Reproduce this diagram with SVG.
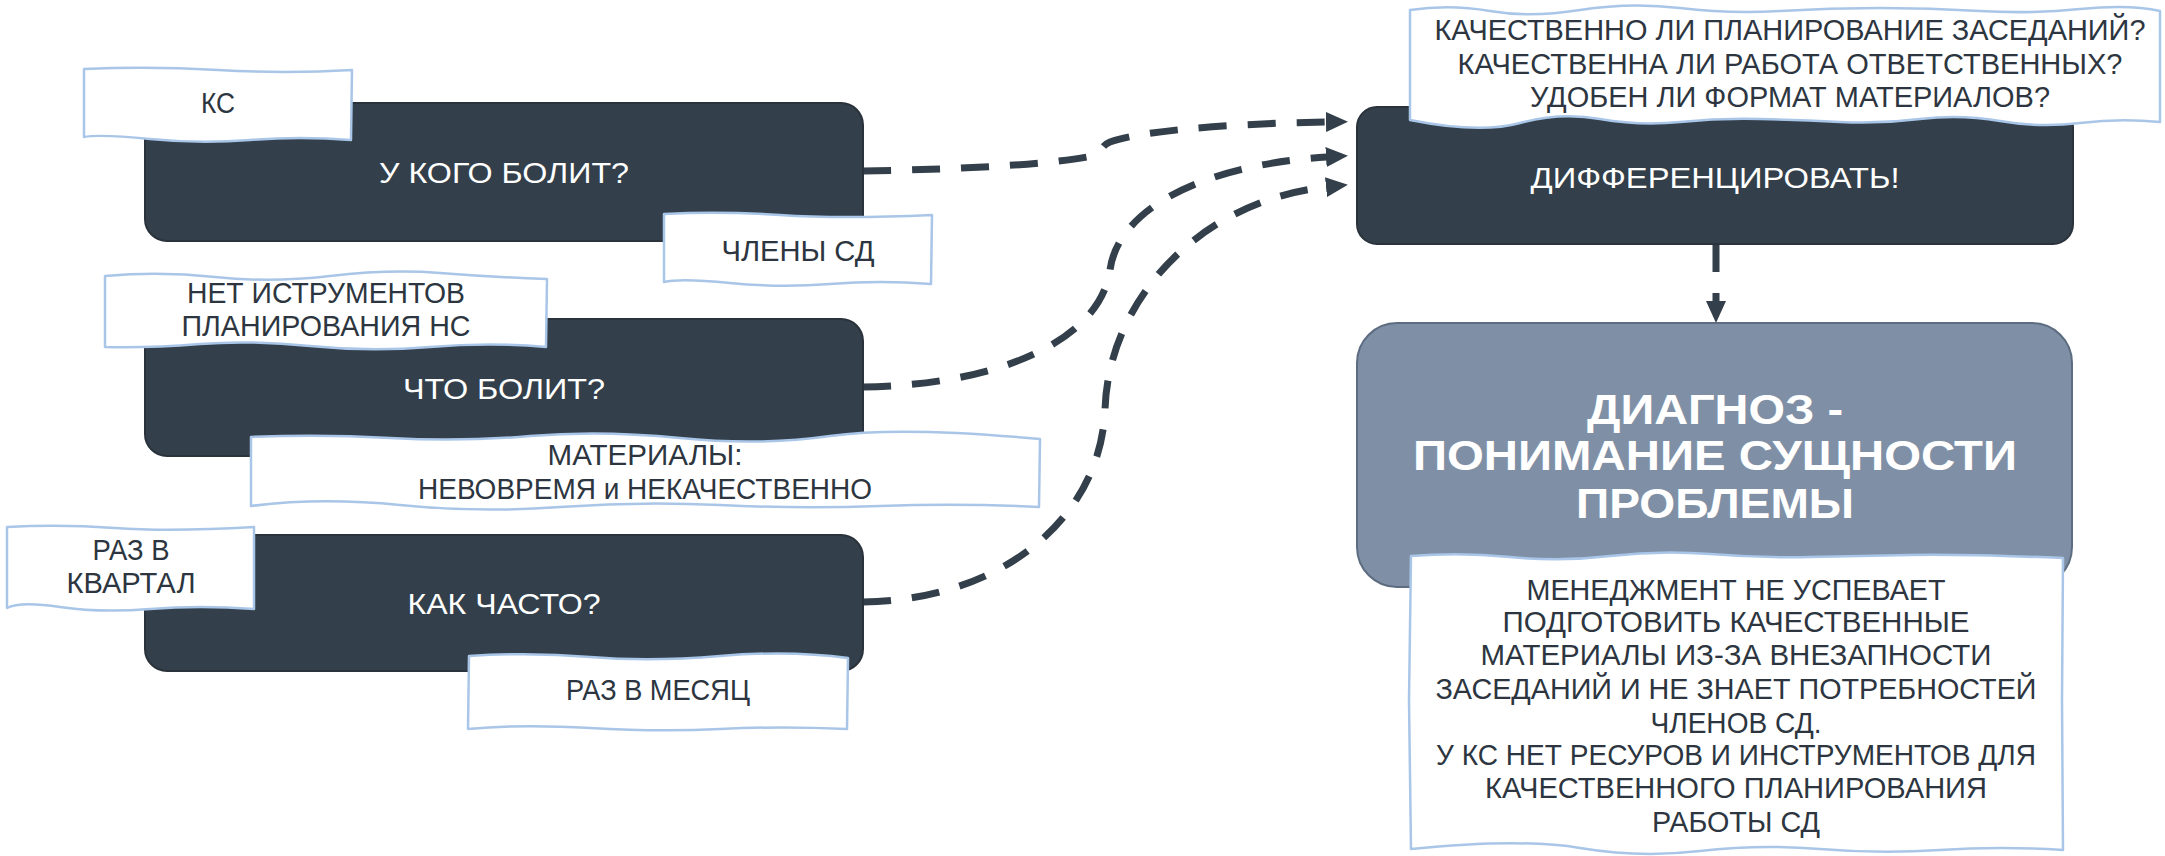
<svg xmlns="http://www.w3.org/2000/svg" width="2165" height="856" viewBox="0 0 2165 856">
<style>
.dark{fill:#333f4a;stroke:#2a333c;stroke-width:2}
.diag{fill:#7f90a6;stroke:#5d6c80;stroke-width:2}
.lbl{fill:#ffffff;stroke:#a9c6e8;stroke-width:2.5;stroke-linejoin:round}
.wt{font-family:"Liberation Sans",Arial,sans-serif;font-size:30px;fill:#ffffff;text-anchor:middle}
.bt{font-family:"Liberation Sans",Arial,sans-serif;font-size:42px;font-weight:bold;fill:#ffffff;text-anchor:middle}
.lt{font-family:"Liberation Sans",Arial,sans-serif;font-size:29px;fill:#2d3640;text-anchor:middle}
.con{fill:none;stroke:#333f4a;stroke-width:7;stroke-dasharray:28 21}
</style>
<defs>
<marker id="ah" markerUnits="userSpaceOnUse" viewBox="0 0 22 20" markerWidth="22" markerHeight="20" refX="1" refY="10" orient="auto">
<path d="M0,0 L22,10 L0,20 Z" fill="#333f4a"/>
</marker>
</defs>
<g id="connectors">
<path class="con" d="M 863 171 C 980 169 1060 163 1092 156 C 1103 153 1100 146 1110 142 C 1150 128 1260 123 1327 122" marker-end="url(#ah)"/>
<path class="con" d="M 863 387 C 1000 385 1100 340 1110 270 C 1118 210 1200 165 1327 157" marker-end="url(#ah)"/>
<path class="con" d="M 863 602 C 1000 600 1100 520 1105 410 C 1108 300 1200 200 1327 187" marker-end="url(#ah)"/>
<path class="con" d="M 1716 244 L 1716 302" marker-end="url(#ah)"/>
</g>
<g id="node-who">
<rect class="dark" x="145" y="103" width="718" height="138" rx="22"/>
<text class="wt" x="504" y="183" textLength="250" lengthAdjust="spacingAndGlyphs">У КОГО БОЛИТ?</text>
</g>
<g id="node-what">
<rect class="dark" x="145" y="319" width="718" height="137" rx="22"/>
<text class="wt" x="504" y="399" textLength="202" lengthAdjust="spacingAndGlyphs">ЧТО БОЛИТ?</text>
</g>
<g id="node-often">
<rect class="dark" x="145" y="535" width="718" height="136" rx="22"/>
<text class="wt" x="504" y="614" textLength="193" lengthAdjust="spacingAndGlyphs">КАК ЧАСТО?</text>
</g>
<g id="node-diff">
<rect class="dark" x="1357" y="107" width="716" height="137" rx="20"/>
<text class="wt" x="1715" y="188" textLength="369" lengthAdjust="spacingAndGlyphs">ДИФФЕРЕНЦИРОВАТЬ!</text>
</g>
<g id="node-diag">
<rect class="diag" x="1357" y="323" width="715" height="264" rx="40"/>
<text class="bt" x="1715" y="424" textLength="256" lengthAdjust="spacingAndGlyphs">ДИАГНОЗ -</text>
<text class="bt" x="1715" y="470" textLength="604" lengthAdjust="spacingAndGlyphs">ПОНИМАНИЕ СУЩНОСТИ</text>
<text class="bt" x="1715" y="518" textLength="278" lengthAdjust="spacingAndGlyphs">ПРОБЛЕМЫ</text>
</g>
<g id="label-ks">
<path class="lbl" d="M 84 69 Q 150 66 218 70 T 352 70 L 351 140 Q 300 136 250 140 T 150 139 T 84 137 Z"/>
<text class="lt" x="218" y="113" textLength="34" lengthAdjust="spacingAndGlyphs">КС</text>
</g>
<g id="label-members">
<path class="lbl" d="M 664 214 Q 720 211 780 215 T 932 215 L 931 284 Q 880 280 830 284 T 730 283 T 664 282 Z"/>
<text class="lt" x="798" y="261" textLength="153" lengthAdjust="spacingAndGlyphs">ЧЛЕНЫ СД</text>
</g>
<g id="label-tools">
<path class="lbl" d="M 105 276 Q 160 271 215 277 T 330 276 T 440 273 T 547 279 L 546 347 Q 490 342 430 347 T 310 346 T 200 344 T 105 347 Z"/>
<text class="lt" x="326" y="303" textLength="278" lengthAdjust="spacingAndGlyphs">НЕТ ИСТРУМЕНТОВ</text>
<text class="lt" x="326" y="336" textLength="289" lengthAdjust="spacingAndGlyphs">ПЛАНИРОВАНИЯ НС</text>
</g>
<g id="label-materials">
<path class="lbl" d="M 251 437 Q 320 434 390 438 T 530 436 T 680 438 T 830 436 T 1040 439 L 1039 507 Q 960 503 880 506 T 720 505 T 560 507 T 400 505 T 251 506 Z"/>
<text class="lt" x="645" y="465" textLength="195" lengthAdjust="spacingAndGlyphs">МАТЕРИАЛЫ:</text>
<text class="lt" x="645" y="499" textLength="454" lengthAdjust="spacingAndGlyphs">НЕВОВРЕМЯ и НЕКАЧЕСТВЕННО</text>
</g>
<g id="label-quarter">
<path class="lbl" d="M 7 527 Q 60 524 115 528 T 254 527 L 254 609 Q 200 605 150 609 T 60 607 T 7 608 Z"/>
<text class="lt" x="131" y="560" textLength="77" lengthAdjust="spacingAndGlyphs">РАЗ В</text>
<text class="lt" x="131" y="593" textLength="129" lengthAdjust="spacingAndGlyphs">КВАРТАЛ</text>
</g>
<g id="label-month">
<path class="lbl" d="M 469 656 Q 530 652 590 657 T 720 656 T 848 658 L 847 729 Q 780 726 720 729 T 590 728 T 468 729 Z"/>
<text class="lt" x="658" y="700" textLength="184" lengthAdjust="spacingAndGlyphs">РАЗ В МЕСЯЦ</text>
</g>
<g id="label-questions">
<path class="lbl" d="M 1410 10 Q 1450 4 1490 11 T 1580 10 T 1680 8 T 1780 11 T 1880 8 T 1980 11 T 2080 9 T 2160 11 L 2160 122 Q 2120 118 2080 123 T 2000 121 T 1920 119 T 1840 122 T 1760 119 T 1680 122 T 1600 119 T 1520 123 T 1410 120 Z"/>
<text class="lt" x="1790" y="40" textLength="711" lengthAdjust="spacingAndGlyphs">КАЧЕСТВЕННО ЛИ ПЛАНИРОВАНИЕ ЗАСЕДАНИЙ?</text>
<text class="lt" x="1790" y="74" textLength="665" lengthAdjust="spacingAndGlyphs">КАЧЕСТВЕННА ЛИ РАБОТА ОТВЕТСТВЕННЫХ?</text>
<text class="lt" x="1790" y="107" textLength="520" lengthAdjust="spacingAndGlyphs">УДОБЕН ЛИ ФОРМАТ МАТЕРИАЛОВ?</text>
</g>
<g id="label-conclusion">
<path class="lbl" d="M 1411 556 Q 1460 552 1510 557 T 1610 556 T 1710 554 T 1810 557 T 1910 555 T 2063 558 L 2062 700 L 2063 850 Q 2000 846 1940 850 T 1820 849 T 1700 851 T 1580 848 T 1411 849 L 1409 700 Z"/>
<text class="lt" x="1736" y="600" textLength="419" lengthAdjust="spacingAndGlyphs">МЕНЕДЖМЕНТ НЕ УСПЕВАЕТ</text>
<text class="lt" x="1736" y="632" textLength="467" lengthAdjust="spacingAndGlyphs">ПОДГОТОВИТЬ КАЧЕСТВЕННЫЕ</text>
<text class="lt" x="1736" y="665" textLength="511" lengthAdjust="spacingAndGlyphs">МАТЕРИАЛЫ ИЗ-ЗА ВНЕЗАПНОСТИ</text>
<text class="lt" x="1736" y="699" textLength="601" lengthAdjust="spacingAndGlyphs">ЗАСЕДАНИЙ И НЕ ЗНАЕТ ПОТРЕБНОСТЕЙ</text>
<text class="lt" x="1736" y="733" textLength="171" lengthAdjust="spacingAndGlyphs">ЧЛЕНОВ СД.</text>
<text class="lt" x="1736" y="765" textLength="600" lengthAdjust="spacingAndGlyphs">У КС НЕТ РЕСУРОВ И ИНСТРУМЕНТОВ ДЛЯ</text>
<text class="lt" x="1736" y="798" textLength="502" lengthAdjust="spacingAndGlyphs">КАЧЕСТВЕННОГО ПЛАНИРОВАНИЯ</text>
<text class="lt" x="1736" y="832" textLength="168" lengthAdjust="spacingAndGlyphs">РАБОТЫ СД</text>
</g>
</svg>
